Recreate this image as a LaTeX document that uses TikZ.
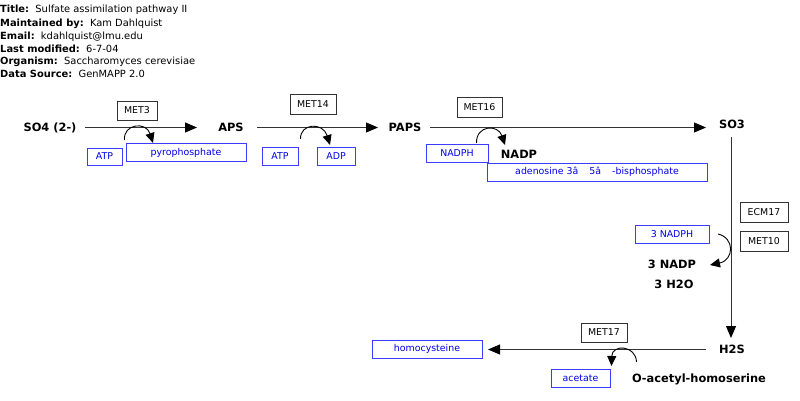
\documentclass[tikz,border=0pt]{standalone}
\usepackage{fontspec}
\setmainfont{DejaVu Sans}
\usetikzlibrary{arrows.meta}
\definecolor{pblue}{RGB}{0,0,230}
\definecolor{bblue}{RGB}{60,60,255}
\definecolor{gline}{RGB}{50,50,50}
\begin{document}
\begin{tikzpicture}[x=1pt,y=-1pt,
  hdr/.style={anchor=west,inner sep=0,font=\fontsize{9.9}{11}\selectfont},
  gene/.style={draw=gline,line width=0.8,fill=white,inner sep=0,font=\fontsize{9.4}{11}\selectfont},
  met/.style={draw=bblue,line width=0.8,inner sep=0,text=pblue,font=\fontsize{9.4}{11}\selectfont},
  lbl/.style={inner sep=0,font=\bfseries\fontsize{11.4}{13}\selectfont},
  main/.style={draw=gline,line width=1,-{Triangle[length=12,width=10,fill=black,color=black]}},
  cat/.style={draw=black,line width=0.9,-{Triangle[length=10,width=9]}}]
\useasboundingbox (0,0) rectangle (800,401);
% header
\node[hdr] (h1) at (0,10) {\textbf{Title:}\ \ Sulfate assimilation pathway II};
\node[hdr] (h2) at (0,23.5) {\textbf{Maintained by:}\ \ Kam Dahlquist};
\node[hdr] (h3) at (0,36.5) {\textbf{Email:}\ \ kdahlquist@lmu.edu};
\node[hdr] (h4) at (0,48.5) {\textbf{Last modified:}\ \ 6-7-04};
\node[hdr] (h5) at (0,61.5) {\textbf{Organism:}\ \ Saccharomyces cerevisiae};
\node[hdr] (h6) at (0,74) {\textbf{Data Source:}\ \ GenMAPP 2.0};
% metabolites
\node[lbl] (so4) at (50,127.5) {SO4 (2-)};
\node[lbl] (aps) at (231,127.5) {APS};
\node[lbl] (paps) at (405,127.5) {PAPS};
\node[lbl] (so3) at (732,124.5) {SO3};
\node[lbl] (h2s) at (732,349.5) {H2S};
\node[lbl] (nadp) at (519,154) {NADP};
\node[lbl] (nadp3) at (672,264) {3 NADP};
\node[lbl] (h2o) at (674,284) {3 H2O};
\node[lbl] (oah) at (699,379.5) {O-acetyl-homoserine};
% main arrows
\coordinate (a1s) at (85,127.5); \coordinate (a1e) at (197,127.5);
\coordinate (a2s) at (257,127.5); \coordinate (a2e) at (378,127.5);
\coordinate (a3s) at (430,127.5); \coordinate (a3e) at (706,127.5);
\coordinate (a4s) at (731,137); \coordinate (a4e) at (731,338);
\coordinate (a5s) at (706,349.5); \coordinate (a5e) at (488,349.5);
\draw[main] (a1s) -- (a1e);
\draw[main] (a2s) -- (a2e);
\draw[main] (a3s) -- (a3e);
\draw[main] (a4s) -- (a4e);
\draw[main] (a5s) -- (a5e);
% genes
\node[gene,minimum width=40,minimum height=19] (met3) at (137,110.5) {MET3};
\node[gene,minimum width=46,minimum height=20] (met14) at (313,104) {MET14};
\node[gene,minimum width=45,minimum height=20] (met16) at (479.5,107) {MET16};
\node[gene,minimum width=48,minimum height=20] (ecm17) at (764,212) {ECM17};
\node[gene,minimum width=48,minimum height=20] (met10) at (764,241) {MET10};
\node[gene,minimum width=46,minimum height=19] (met17) at (604,332.5) {MET17};
% side metabolites
\node[met,minimum width=35,minimum height=17] (atp1) at (104.5,156.5) {ATP};
\node[met,minimum width=120,minimum height=18] (ppi) at (186,152.5) {pyrophosphate};
\node[met,minimum width=36,minimum height=18] (atp2) at (280,156) {ATP};
\node[met,minimum width=38,minimum height=18] (adp) at (336,156) {ADP};
\node[met,minimum width=62,minimum height=18] (nadph) at (457,153) {NADPH};
\node[met,minimum width=220,minimum height=18] (pap) at (597,172) {adenosine 3â\hspace{11pt}5â\hspace{11pt}-bisphosphate};
\node[met,minimum width=74,minimum height=18] (nadph3) at (672,234) {3 NADPH};
\node[met,minimum width=110,minimum height=18] (hcy) at (427,349) {homocysteine};
\node[met,minimum width=59,minimum height=18] (acet) at (580.5,378) {acetate};
% cofactor curves
\coordinate (c1s) at (124.5,140); \coordinate (c1e) at (153,143);
\draw[cat] (c1s) .. controls (123,124) and (146,121) .. (c1e);
\coordinate (c2s) at (300.5,139); \coordinate (c2e) at (330,145);
\draw[cat] (c2s) .. controls (300,123) and (323,122) .. (c2e);
\coordinate (c3s) at (476.5,143); \coordinate (c3e) at (505,145);
\draw[cat] (c3s) .. controls (476,125) and (498,124) .. (c3e);
\coordinate (c4s) at (718,234); \coordinate (c4e) at (710,265);
\draw[cat] (c4s) .. controls (735,238) and (734,260) .. (c4e);
\coordinate (c5s) at (636.5,362); \coordinate (c5e) at (611.5,366);
\draw[cat] (c5s) .. controls (636,345) and (612,344) .. (c5e);
\end{tikzpicture}
\end{document}
